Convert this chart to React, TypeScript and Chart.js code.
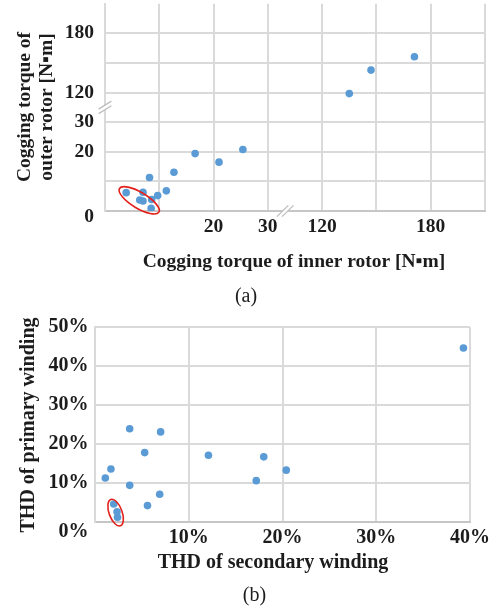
import React, { useEffect, useRef } from 'react';
import { Chart, registerables } from 'chart.js';

Chart.register(...registerables);

// ---------- Chart (a): cogging torque ----------
const innerRotorTorque = [3.9, 7.0, 6.4, 7.0, 8.2, 8.5, 8.6, 9.7, 11.3, 12.7, 16.6, 21.0, 25.4, 135, 147, 171];
const outerRotorTorque = [6.2, 6.3, 3.7, 3.4, 11.3, 0.9, 3.9, 5.2, 6.8, 13.1, 19.4, 16.5, 20.8, 117, 142.8, 156.3];
// broken axis: one gridline per value (axis break between 30 and 120)
const torqueGridValues = [0, 10, 20, 30, 120, 150, 180, 210];
const torqueXTickLabels = ['', '', '20', '30', '120', '', '180', ''];
const torqueYTickLabels = ['0', '', '20', '30', '120', '', '180', ''];
const circledTorque = { inner: 6.3, outer: 3.6 };

// ---------- Chart (b): THD ----------
const secondaryTHD = [39.3, 3.7, 7.0, 5.3, 12.1, 18.0, 1.7, 20.4, 1.1, 17.2, 3.7, 6.9, 2.0, 5.6, 2.35, 2.4];
const primaryTHD = [44.6, 23.9, 23.1, 17.8, 17.1, 16.7, 13.6, 13.3, 11.3, 10.6, 9.4, 7.1, 4.6, 4.2, 2.6, 1.2];
const thdXTicks = [0, 10, 20, 30, 40];
const thdYTicks = [0, 10, 20, 30, 40, 50];
const circledTHD = { secondary: 2.2, primary: 2.4 };

const SERIF = '"Liberation Serif", "Times New Roman", serif';
const GRID = '#dadada';
const AXIS = '#c6c6c6';
const TEXT = '#1c1c1c';
const POINT = '#5b9bd5';
const RED = '#e3211c';

function torqueToAxis(v: number): number {
  const g = torqueGridValues;
  for (let i = 0; i < g.length - 1; i++) {
    if (v <= g[i + 1] || i === g.length - 2) return i + (v - g[i]) / (g[i + 1] - g[i]);
  }
  return 0;
}

function fixBox(size: { width?: number; height?: number }) {
  return (scale: any) => {
    if (size.width !== undefined) scale.width = size.width;
    if (size.height !== undefined) scale.height = size.height;
    scale.paddingTop = 0;
    scale.paddingBottom = 0;
    scale.paddingLeft = 0;
    scale.paddingRight = 0;
  };
}

function drawBreak(ctx: CanvasRenderingContext2D, cx: number, cy: number, angleDeg: number, half: number, off: { x: number; y: number }) {
  const a = (angleDeg * Math.PI) / 180;
  const dx = Math.cos(a) * half;
  const dy = -Math.sin(a) * half;
  ctx.save();
  ctx.fillStyle = '#ffffff';
  ctx.beginPath();
  ctx.moveTo(cx - dx - off.x, cy - dy - off.y);
  ctx.lineTo(cx + dx - off.x, cy + dy - off.y);
  ctx.lineTo(cx + dx + off.x, cy + dy + off.y);
  ctx.lineTo(cx - dx + off.x, cy - dy + off.y);
  ctx.closePath();
  ctx.fill();
  ctx.strokeStyle = '#bdbdbd';
  ctx.lineWidth = 1.3;
  for (const s of [-1, 1]) {
    ctx.beginPath();
    ctx.moveTo(cx - dx + s * off.x, cy - dy + s * off.y);
    ctx.lineTo(cx + dx + s * off.x, cy + dy + s * off.y);
    ctx.stroke();
  }
  ctx.restore();
}

function rotatedText(ctx: CanvasRenderingContext2D, text: string, baselineX: number, centerY: number) {
  ctx.save();
  ctx.translate(baselineX, centerY);
  ctx.rotate(-Math.PI / 2);
  ctx.textAlign = 'center';
  ctx.textBaseline = 'alphabetic';
  ctx.fillText(text, 0, 0);
  ctx.restore();
}

const torqueDecor = {
  id: 'torqueDecor',
  afterDraw(chart: any) {
    const { ctx, chartArea, scales } = chart;
    const xs = scales.x;
    const ys = scales.y;
    // axis break marks
    drawBreak(ctx, chartArea.left, ys.getPixelForValue(3.5), 32, 7.5, { x: 0, y: 2.3 });
    drawBreak(ctx, xs.getPixelForValue(3.32), chartArea.bottom, 45, 8, { x: 2.6, y: 0 });
    // red ellipse
    ctx.save();
    ctx.strokeStyle = RED;
    ctx.lineWidth = 1.6;
    ctx.beginPath();
    ctx.ellipse(
      xs.getPixelForValue(torqueToAxis(circledTorque.inner)),
      ys.getPixelForValue(torqueToAxis(circledTorque.outer)),
      23, 8, (31 * Math.PI) / 180, 0, Math.PI * 2
    );
    ctx.stroke();
    // titles
    ctx.fillStyle = TEXT;
    ctx.font = `bold 19.5px ${SERIF}`;
    ctx.textAlign = 'center';
    ctx.textBaseline = 'alphabetic';
    ctx.fillText('Cogging torque of inner rotor [N\u25AAm]', 294, 266.5);
    rotatedText(ctx, 'Cogging torque of', 29.5, 107);
    rotatedText(ctx, 'outer rotor [N\u25AAm]', 52, 107);
    ctx.font = `20px ${SERIF}`;
    ctx.fillText('(a)', 246, 301.5);
    ctx.restore();
  },
};

const thdDecor = {
  id: 'thdDecor',
  afterDraw(chart: any) {
    const { ctx, scales } = chart;
    const xs = scales.x;
    const ys = scales.y;
    ctx.save();
    ctx.strokeStyle = RED;
    ctx.lineWidth = 1.6;
    ctx.beginPath();
    ctx.ellipse(
      xs.getPixelForValue(circledTHD.secondary),
      ys.getPixelForValue(circledTHD.primary),
      6.5, 14, (-20 * Math.PI) / 180, 0, Math.PI * 2
    );
    ctx.stroke();
    ctx.fillStyle = TEXT;
    ctx.font = `bold 20px ${SERIF}`;
    ctx.textAlign = 'center';
    ctx.textBaseline = 'alphabetic';
    ctx.fillText('THD of secondary winding', 273, 257.5);
    rotatedText(ctx, 'THD of primary winding', 33.5, 115);
    ctx.font = `20px ${SERIF}`;
    ctx.fillText('(b)', 254.5, 291);
    ctx.restore();
  },
};

function tickFont(size: number, zeroLineHeight: string) {
  return (c: any) => ({
    family: SERIF,
    size,
    weight: 'bold',
    lineHeight: c.tick && c.tick.value === 0 ? zeroLineHeight : 1.2,
  });
}

function makeTorqueChart(canvas: HTMLCanvasElement) {
  const points = innerRotorTorque.map((v, i) => ({ x: torqueToAxis(v), y: torqueToAxis(outerRotorTorque[i]) }));
  const last = torqueGridValues.length - 1;
  return new Chart(canvas, {
    type: 'scatter',
    data: {
      datasets: [
        { data: points, backgroundColor: POINT, borderWidth: 0, pointRadius: 3.8, pointHoverRadius: 3.8 },
      ],
    },
    options: {
      responsive: false,
      animation: false,
      events: [],
      layout: { padding: { top: 3, right: 10, left: 0, bottom: 0 } },
      plugins: { legend: { display: false }, tooltip: { enabled: false } },
      scales: {
        x: {
          type: 'linear',
          min: 0,
          max: last,
          afterFit: fixBox({ height: 99 }),
          grid: { color: GRID, lineWidth: 2, drawTicks: false },
          border: { display: true, color: AXIS, width: 2 },
          ticks: {
            stepSize: 1,
            autoSkip: false,
            maxRotation: 0,
            padding: 4,
            color: TEXT,
            font: { family: SERIF, size: 19.5, weight: 'bold' },
            callback: (v: any) => torqueXTickLabels[Math.round(v)] ?? '',
          },
        },
        y: {
          type: 'linear',
          min: 0,
          max: last,
          afterFit: fixBox({ width: 105 }),
          grid: {
            color: (c: any) => (c.tick && c.tick.value === last ? 'rgba(0,0,0,0)' : GRID),
            lineWidth: 2,
            drawTicks: false,
          },
          border: { display: true, color: GRID, width: 2 },
          ticks: {
            stepSize: 1,
            autoSkip: false,
            padding: 11,
            color: TEXT,
            font: tickFont(19.5, '12px') as any,
            callback: (v: any) => {
              const s = torqueYTickLabels[Math.round(v)] ?? '';
              return v === 0 ? ['', s] : s;
            },
          },
        },
      },
    },
    plugins: [torqueDecor],
  } as any);
}

function makeTHDChart(canvas: HTMLCanvasElement) {
  const points = secondaryTHD.map((v, i) => ({ x: v, y: primaryTHD[i] }));
  return new Chart(canvas, {
    type: 'scatter',
    data: {
      datasets: [
        { data: points, backgroundColor: POINT, borderWidth: 0, pointRadius: 3.8, pointHoverRadius: 3.8 },
      ],
    },
    options: {
      responsive: false,
      animation: false,
      events: [],
      layout: { padding: { top: 17, right: 25, left: 0, bottom: 0 } },
      plugins: { legend: { display: false }, tooltip: { enabled: false } },
      scales: {
        x: {
          type: 'linear',
          min: thdXTicks[0],
          max: thdXTicks[thdXTicks.length - 1],
          afterFit: fixBox({ height: 92 }),
          afterBuildTicks: (s: any) => { s.ticks = thdXTicks.map((value) => ({ value })); },
          grid: { color: GRID, lineWidth: 2, drawTicks: false },
          border: { display: true, color: AXIS, width: 2 },
          ticks: {
            autoSkip: false,
            maxRotation: 0,
            padding: 4,
            color: TEXT,
            font: { family: SERIF, size: 20, weight: 'bold' },
            callback: (v: any) => (v === 0 ? '' : `${v}%`),
          },
        },
        y: {
          type: 'linear',
          min: thdYTicks[0],
          max: thdYTicks[thdYTicks.length - 1],
          afterFit: fixBox({ width: 95 }),
          afterBuildTicks: (s: any) => { s.ticks = thdYTicks.map((value) => ({ value })); },
          grid: { color: GRID, lineWidth: 2, drawTicks: false },
          border: { display: true, color: GRID, width: 2 },
          ticks: {
            autoSkip: false,
            padding: 6.5,
            color: TEXT,
            font: tickFont(20, '18.8px') as any,
            callback: (v: any) => (v === 0 ? ['', '0%'] : `${v}%`),
          },
        },
      },
    },
    plugins: [thdDecor],
  } as any);
}

export default function App() {
  const refA = useRef<HTMLCanvasElement>(null);
  const refB = useRef<HTMLCanvasElement>(null);
  useEffect(() => {
    const a = makeTorqueChart(refA.current!);
    const b = makeTHDChart(refB.current!);
    return () => {
      a.destroy();
      b.destroy();
    };
  }, []);
  return (
    <div style={{ position: 'absolute', left: 0, top: 0, width: 495, height: 614, background: '#ffffff' }}>
      <canvas ref={refA} width={495} height={310} style={{ position: 'absolute', left: 0, top: 0, display: 'block' }} />
      <canvas ref={refB} width={495} height={304} style={{ position: 'absolute', left: 0, top: 310, display: 'block' }} />
    </div>
  );
}
